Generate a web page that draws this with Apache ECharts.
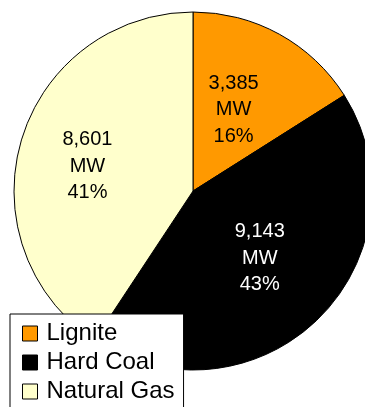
<!DOCTYPE html>
<html>
<head>
<meta charset="utf-8">
<script src="https://cdn.jsdelivr.net/npm/echarts@6/dist/echarts.min.js"></script>
<style>
  html, body { margin: 0; padding: 0; background: #ffffff; }
  #chart { width: 365px; height: 407px; }
</style>
</head>
<body>
<div id="chart"></div>
<script>
// Installed capacity by fuel type (MW)
var categories = ['Lignite', 'Hard Coal', 'Natural Gas'];
var capacityMW = [3385, 9143, 8601];
var sliceColors = ['#FF9900', '#000000', '#FFFFCC'];
var labelColors = ['#000000', '#ffffff', '#000000'];

var total = capacityMW.reduce(function (a, b) { return a + b; }, 0);
function fmt(n) { return n.toLocaleString('en-US'); }

var chart = echarts.init(document.getElementById('chart'), null, { renderer: 'canvas' });

var data = categories.map(function (name, i) {
  return {
    name: name,
    value: capacityMW[i],
    itemStyle: { color: sliceColors[i] },
    label: { color: labelColors[i] }
  };
});

// nudge labels slightly away from the slice midpoints
var labelShift = [[-4, 0], [2, 1], [-17, 2]];

chart.setOption({
  animation: false,
  legend: {
    orient: 'vertical',
    left: 10,
    top: 314,
    height: 110,
    padding: [5, 9, 5, 12],
    itemGap: 0,
    itemWidth: 15,
    itemHeight: 15,
    icon: 'rect',
    backgroundColor: '#ffffff',
    borderColor: '#000000',
    borderWidth: 1,
    borderRadius: 0,
    selectedMode: false,
    itemStyle: { borderColor: '#000000', borderWidth: 1 },
    textStyle: {
      fontFamily: 'Liberation Sans',
      fontSize: 24,
      lineHeight: 29,
      color: '#000000',
      padding: [0, 0, 0, 4]
    },
    data: categories
  },
  series: [{
    type: 'pie',
    center: [193, 191],
    radius: 179,
    startAngle: 90,
    clockwise: true,
    avoidLabelOverlap: false,
    itemStyle: { borderColor: '#000000', borderWidth: 1 },
    emphasis: { disabled: true },
    label: {
      show: true,
      position: 'inside',
      fontFamily: 'Liberation Sans',
      fontSize: 20,
      lineHeight: 26.5,
      align: 'center',
      formatter: function (p) {
        return fmt(p.value) + '\nMW\n' + Math.round(p.value / total * 100) + '%';
      }
    },
    labelLayout: function (p) {
      var s = labelShift[p.dataIndex];
      return { dx: s[0], dy: s[1] };
    },
    labelLine: { show: false },
    data: data
  }]
});
</script>
</body>
</html>
